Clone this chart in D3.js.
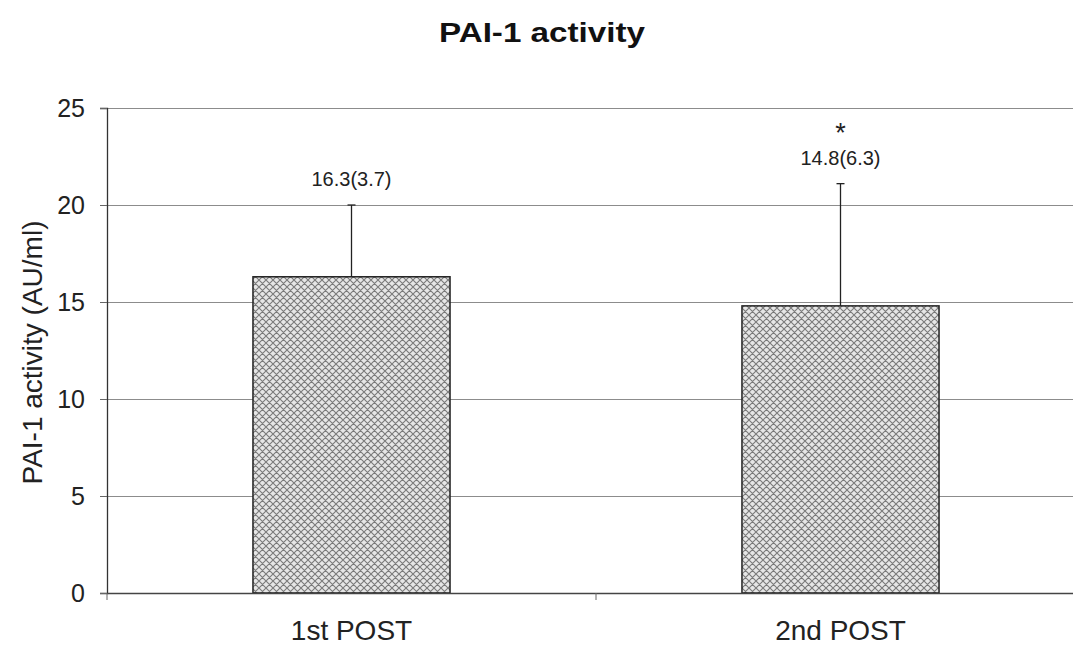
<!DOCTYPE html>
<html>
<head>
<meta charset="utf-8">
<script src="https://cdn.jsdelivr.net/npm/d3@7"></script>
<style>
  body { margin: 0; background: #fff; }
  svg { display: block; font-family: Arial, "Liberation Sans", sans-serif; }
</style>
</head>
<body>
<script>
// data
const categories = ['1st POST', '2nd POST'];
const means = [16.3, 14.8];
const sds = [3.7, 6.3];
const valueLabels = ['16.3(3.7)', '14.8(6.3)'];
const significant = [false, true];
const yTicks = [0, 5, 10, 15, 20, 25];

const width = 1073, height = 652;
const margin = {left: 107, top: 108, bottom: 59};
const plotRight = 1085; // axis runs past the page edge
const plotBottom = height - margin.bottom;

const rows = categories.map((c, i) => ({cat: c, mean: means[i], sd: sds[i], label: valueLabels[i], star: significant[i]}));

const svg = d3.select('body').append('svg')
    .attr('width', width)
    .attr('height', height);

// crosshatch fill
const defs = svg.append('defs');
const pat = defs.append('pattern')
    .attr('id', 'hatch')
    .attr('patternUnits', 'userSpaceOnUse')
    .attr('width', 7)
    .attr('height', 7);
pat.append('rect').attr('width', 7).attr('height', 7).attr('fill', '#e6e6e6');
pat.append('path')
    .attr('d', 'M0,0 L7,7 M-1,6 L1,8 M6,-1 L8,1 M7,0 L0,7 M-1,1 L1,-1 M6,8 L8,6')
    .attr('stroke', '#7a7a7a')
    .attr('stroke-width', 1.1);

const x = d3.scaleBand()
    .domain(categories)
    .range([margin.left, plotRight])
    .paddingInner(0)
    .paddingOuter(0);

const y = d3.scaleLinear()
    .domain([0, 25])
    .range([plotBottom, margin.top]);

// title
svg.append('text')
    .attr('x', 542)
    .attr('y', 42)
    .attr('text-anchor', 'middle')
    .attr('textLength', 206)
    .attr('lengthAdjust', 'spacingAndGlyphs')
    .style('font-size', '27px')
    .style('font-weight', 'bold')
    .attr('fill', '#111')
    .text('PAI-1 activity');

// grid
svg.append('g')
    .selectAll('line')
    .data(yTicks.filter(d => d > 0))
    .enter()
    .append('line')
    .attr('x1', margin.left)
    .attr('x2', plotRight)
    .attr('y1', d => Math.round(y(d)) + 0.5)
    .attr('y2', d => Math.round(y(d)) + 0.5)
    .attr('stroke', '#8c8c8c')
    .attr('stroke-width', 1);

// y axis
const yAxis = d3.axisLeft(y)
    .tickValues(yTicks)
    .tickSize(7)
    .tickPadding(15);

const gy = svg.append('g')
    .attr('transform', `translate(${margin.left}, 0)`)
    .call(yAxis);
gy.select('.domain').attr('stroke', '#333').attr('stroke-width', 1.3);
gy.selectAll('.tick line').attr('stroke', '#666');
gy.selectAll('.tick text')
    .style('font-size', '25px')
    .attr('fill', '#222')
    .attr('font-family', 'Arial, "Liberation Sans", sans-serif');

svg.append('text')
    .attr('transform', `translate(42, ${(margin.top + plotBottom) / 2 + 2}) rotate(-90)`)
    .attr('text-anchor', 'middle')
    .style('font-size', '28px')
    .attr('fill', '#222')
    .text('PAI-1 activity (AU/ml)');

// bars
const barW = x.bandwidth() * 0.403;
svg.append('g')
    .selectAll('rect')
    .data(rows)
    .enter()
    .append('rect')
    .attr('x', d => x(d.cat) + x.bandwidth() / 2 - barW / 2)
    .attr('y', d => y(d.mean))
    .attr('width', barW)
    .attr('height', d => y(0) - y(d.mean))
    .attr('fill', 'url(#hatch)')
    .attr('stroke', '#222')
    .attr('stroke-width', 1.5);

// error bars (upper only)
const err = svg.append('g').selectAll('g')
    .data(rows)
    .enter()
    .append('g');
err.append('line')
    .attr('x1', d => x(d.cat) + x.bandwidth() / 2)
    .attr('x2', d => x(d.cat) + x.bandwidth() / 2)
    .attr('y1', d => y(d.mean))
    .attr('y2', d => y(d.mean + d.sd))
    .attr('stroke', '#222')
    .attr('stroke-width', 1.3);
err.append('line')
    .attr('x1', d => x(d.cat) + x.bandwidth() / 2 - 4)
    .attr('x2', d => x(d.cat) + x.bandwidth() / 2 + 4)
    .attr('y1', d => y(d.mean + d.sd))
    .attr('y2', d => y(d.mean + d.sd))
    .attr('stroke', '#222')
    .attr('stroke-width', 1.3);

// value labels
err.append('text')
    .attr('x', d => x(d.cat) + x.bandwidth() / 2)
    .attr('y', d => y(d.mean + d.sd) - 19)
    .attr('text-anchor', 'middle')
    .style('font-size', '20px')
    .attr('fill', '#222')
    .text(d => d.label);
err.filter(d => d.star)
    .append('text')
    .attr('x', d => x(d.cat) + x.bandwidth() / 2)
    .attr('y', d => y(d.mean + d.sd) - 42)
    .attr('text-anchor', 'middle')
    .style('font-size', '27px')
    .attr('fill', '#222')
    .text('*');

// x axis
const xAxis = d3.axisBottom(x)
    .tickSize(0)
    .tickPadding(27);
const gx = svg.append('g')
    .attr('transform', `translate(0, ${plotBottom})`)
    .call(xAxis);
gx.select('.domain').attr('stroke', '#444').attr('stroke-width', 1.5);
gx.selectAll('.tick text')
    .style('font-size', '28px')
    .attr('fill', '#222')
    .attr('font-family', 'Arial, "Liberation Sans", sans-serif');

// category separator ticks
svg.append('g')
    .selectAll('line')
    .data([margin.left, x(categories[1])])
    .enter()
    .append('line')
    .attr('x1', d => d)
    .attr('x2', d => d)
    .attr('y1', plotBottom)
    .attr('y2', plotBottom + 7)
    .attr('stroke', '#666');
</script>
</body>
</html>
